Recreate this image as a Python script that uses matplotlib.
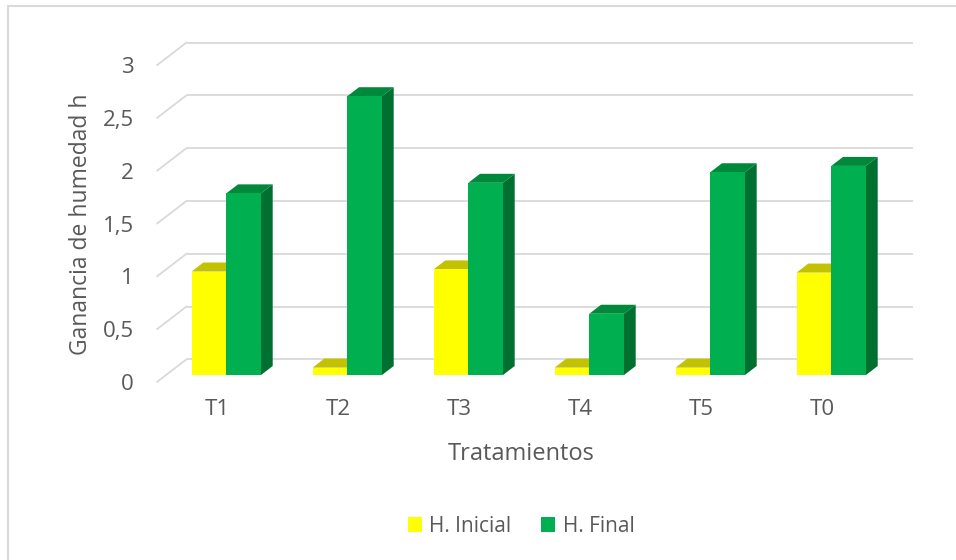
import matplotlib
matplotlib.use('Agg')
import matplotlib.pyplot as plt
from matplotlib.patches import Polygon, Rectangle, Patch
from matplotlib.transforms import ScaledTranslation
import numpy as np

# ---- data ----
categories = ['T1', 'T2', 'T3', 'T4', 'T5', 'T0']
h_inicial = [0.98, 0.07, 1.00, 0.07, 0.07, 0.97]
h_final = [1.72, 2.64, 1.82, 0.58, 1.92, 1.98]
y_ticks = [0, 0.5, 1, 1.5, 2, 2.5, 3]
y_tick_labels = ['0', '0,5', '1', '1,5', '2', '2,5', '3']
series_names = ['H. Inicial', 'H. Final']
x_title = 'Tratamientos'
y_title = 'Ganancia de humedad h'

plt.rcParams['font.family'] = ['Open Sans', 'DejaVu Sans']
TEXT = '#595959'
GRID = '#D9D9D9'
YEL, YEL_TOP, YEL_SIDE = '#FFFF00', '#C2C200', '#A6A600'
GRN, GRN_TOP, GRN_SIDE = '#00B050', '#00883B', '#007030'

W, H = 956, 560
fig = plt.figure(figsize=(W / 100, H / 100), dpi=100)
ax_l, ax_r, ax_b, ax_t = 165.8, 891.8, 375.0, 58.2  # pixel geometry of bar front plane
ax = fig.add_axes([ax_l / W, 1 - ax_b / H, (ax_r - ax_l) / W, (ax_b - ax_t) / H])
ax.set_xlim(-0.5, 5.5)
ax.set_ylim(0, 3)
ux = 6.0 / (ax_r - ax_l)
uy = 3.0 / (ax_b - ax_t)


def off(xpx, ypx_up):
    return xpx * ux, ypx_up * uy


# back wall + left wall gridlines
bx, by = off(20.7, 15.7)
fx, fy = off(-8.8, -7.0)
for v in y_ticks:
    ax.plot([-0.5 + bx, 5.5 + bx], [v + by, v + by], color=GRID, lw=1.3,
            zorder=1, clip_on=False, solid_capstyle='butt')
    ax.plot([-0.5 + fx, -0.5 + bx], [v + fy, v + by], color=GRID, lw=1.3,
            zorder=1, clip_on=False, solid_capstyle='round')

x = np.arange(len(categories))
w = 34.7 * ux
dx, dy = off(11.7, 9.0)


def bars3d(lefts, heights, face, top, side, z):
    bars = ax.bar(lefts, heights, width=w, align='edge', color=face,
                  zorder=z + 0.2, linewidth=0, clip_on=False)
    for r in bars:
        x0 = r.get_x()
        x1 = x0 + r.get_width()
        h = r.get_height()
        ax.add_patch(Polygon([(x0, h), (x1, h), (x1 + dx, h + dy), (x0 + dx, h + dy)],
                             closed=True, fc=top, ec='none', zorder=z, clip_on=False))
        ax.add_patch(Polygon([(x1, 0), (x1 + dx, dy), (x1 + dx, h + dy), (x1, h)],
                             closed=True, fc=side, ec='none', zorder=z, clip_on=False))
    return bars


bars3d(x - w, h_inicial, YEL, YEL_TOP, YEL_SIDE, 2)
bars3d(x, h_final, GRN, GRN_TOP, GRN_SIDE, 3)

for s in ax.spines.values():
    s.set_visible(False)
ax.set_facecolor('none')

ax.set_yticks(y_ticks, y_tick_labels)
ax.set_xticks(x, categories)
ax.tick_params(axis='y', length=0, pad=22.9, labelsize=16, labelcolor=TEXT)
ax.tick_params(axis='x', length=0, pad=17.5, labelsize=16, labelcolor=TEXT)
for lab in ax.get_yticklabels():
    lab.set_transform(lab.get_transform() + ScaledTranslation(0, -0.07, fig.dpi_scale_trans))
for lab in ax.get_xticklabels():
    lab.set_transform(lab.get_transform() + ScaledTranslation(-0.088, 0, fig.dpi_scale_trans))

ax.set_xlabel(x_title, fontsize=17, color=TEXT, va='center')
ax.xaxis.set_label_coords((520.8 - ax_l) / (ax_r - ax_l), (ax_b - 454) / (ax_b - ax_t))
ax.set_ylabel(y_title, fontsize=16.5, color=TEXT, va='center', ha='center')
ax.yaxis.set_label_coords((81 - ax_l) / (ax_r - ax_l), (ax_b - 224) / (ax_b - ax_t))

handles = [Patch(facecolor=YEL, edgecolor='none'), Patch(facecolor=GRN, edgecolor='none')]
fig.legend(handles, series_names, loc='center', bbox_to_anchor=(521 / W, 1 - 526 / H),
           ncol=2, frameon=False, fontsize=15, labelcolor=TEXT,
           handlelength=0.7, handleheight=0.7, handletextpad=0.35, columnspacing=1.4)

fig.add_artist(Rectangle((8 / W, -0.1), 2, (1 - 6 / H) + 0.1, transform=fig.transFigure,
                         fill=False, ec=GRID, lw=1.5))

fig.savefig('out.png', dpi=100)
